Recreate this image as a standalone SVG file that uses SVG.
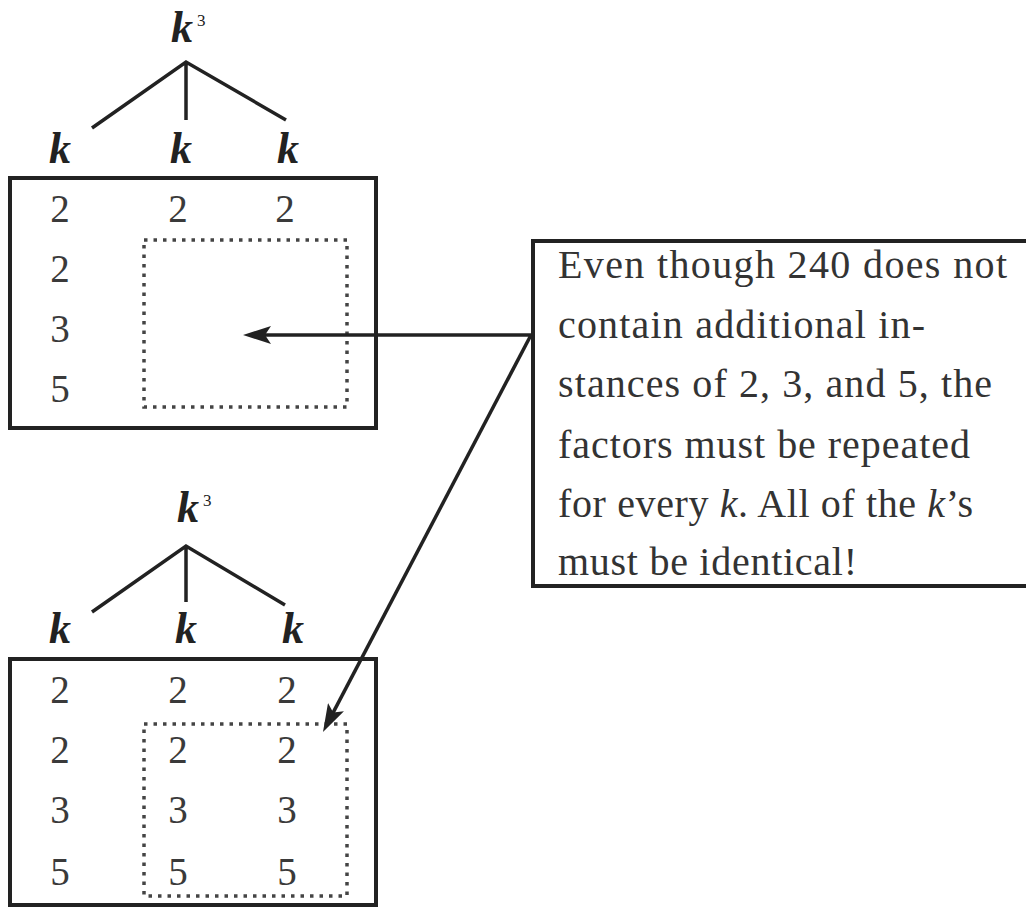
<svg xmlns="http://www.w3.org/2000/svg" width="1026" height="909" viewBox="0 0 1026 909" font-family="Liberation Serif">
<defs>
<style>
.box{fill:none;stroke:#222;stroke-width:4}
.dot{fill:none;stroke:#444;stroke-width:3.5;stroke-dasharray:3.5 6}
.tree{stroke:#222;stroke-width:3.5;fill:none}
.kv{font-style:italic;font-weight:bold;font-size:44px;fill:#222;text-anchor:middle}
.sup{font-size:17px;fill:#222}
.num{font-size:39px;fill:#3a3a3a;text-anchor:middle}
.note{font-size:40px;fill:#333}
.arr{stroke:#222;stroke-width:3.5;fill:none}
</style>
<marker id="ah" markerUnits="userSpaceOnUse" viewBox="0 0 28 18" refX="20" refY="9" markerWidth="28" markerHeight="18" orient="auto">
<path d="M0,0 L28,9 L0,18 L6,9 Z" fill="#222"/>
</marker>
</defs>
<rect width="1026" height="909" fill="#fff"/>

<g id="top-panel">
<text class="kv" font-family="Liberation Serif" x="182" y="42">k</text><text class="sup" font-family="Liberation Serif" x="197" y="26">3</text>
<path class="tree" d="M92,128 L186,62 L286,120 M186,62 L186,120"/>
<text class="kv" font-family="Liberation Serif" x="60" y="163">k</text>
<text class="kv" font-family="Liberation Serif" x="181" y="163">k</text>
<text class="kv" font-family="Liberation Serif" x="288" y="163">k</text>
<rect class="box" x="10" y="178" width="366" height="250"/>
<text class="num" font-family="Liberation Serif" x="60" y="222">2</text><text class="num" font-family="Liberation Serif" x="178" y="222">2</text><text class="num" font-family="Liberation Serif" x="285" y="222">2</text>
<text class="num" font-family="Liberation Serif" x="60" y="282">2</text>
<text class="num" font-family="Liberation Serif" x="60" y="342">3</text>
<text class="num" font-family="Liberation Serif" x="60" y="402">5</text>
<rect class="dot" x="144" y="240" width="203" height="167"/>
</g>

<g id="bottom-panel">
<text class="kv" font-family="Liberation Serif" x="188" y="522">k</text><text class="sup" font-family="Liberation Serif" x="203" y="506">3</text>
<path class="tree" d="M92,612 L186,546 L285,605 M186,546 L186,602"/>
<text class="kv" font-family="Liberation Serif" x="60" y="643">k</text>
<text class="kv" font-family="Liberation Serif" x="186" y="643">k</text>
<text class="kv" font-family="Liberation Serif" x="293" y="643">k</text>
<rect class="box" x="10" y="659" width="366" height="246"/>
<text class="num" font-family="Liberation Serif" x="60" y="703">2</text><text class="num" font-family="Liberation Serif" x="178" y="703">2</text><text class="num" font-family="Liberation Serif" x="287" y="703">2</text>
<text class="num" font-family="Liberation Serif" x="60" y="763">2</text><text class="num" font-family="Liberation Serif" x="178" y="763">2</text><text class="num" font-family="Liberation Serif" x="287" y="763">2</text>
<text class="num" font-family="Liberation Serif" x="60" y="823">3</text><text class="num" font-family="Liberation Serif" x="178" y="823">3</text><text class="num" font-family="Liberation Serif" x="287" y="823">3</text>
<text class="num" font-family="Liberation Serif" x="60" y="885">5</text><text class="num" font-family="Liberation Serif" x="178" y="885">5</text><text class="num" font-family="Liberation Serif" x="287" y="885">5</text>
<rect class="dot" x="144" y="724" width="203" height="172"/>
</g>

<g id="note">
<rect class="box" x="533" y="241" width="500" height="345"/>
<text class="note" font-family="Liberation Serif" x="558" y="278" textLength="449" lengthAdjust="spacing">Even though 240 does not</text>
<text class="note" font-family="Liberation Serif" x="558" y="338" textLength="367" lengthAdjust="spacing">contain additional in-</text>
<text class="note" font-family="Liberation Serif" x="558" y="397" textLength="434" lengthAdjust="spacing">stances of 2, 3, and 5, the</text>
<text class="note" font-family="Liberation Serif" x="558" y="458" textLength="412" lengthAdjust="spacing">factors must be repeated</text>
<text class="note" font-family="Liberation Serif" x="558" y="517" textLength="415" lengthAdjust="spacing">for every <tspan font-style="italic">k</tspan>. All of the <tspan font-style="italic">k</tspan>’s</text>
<text class="note" font-family="Liberation Serif" x="558" y="575" textLength="299" lengthAdjust="spacing">must be identical!</text>
</g>

<g id="connectors">
<line class="arr" x1="531" y1="335" x2="251" y2="335" marker-end="url(#ah)"/>
<line class="arr" x1="531" y1="335" x2="326.7" y2="724.9" marker-end="url(#ah)"/>
</g>
</svg>
